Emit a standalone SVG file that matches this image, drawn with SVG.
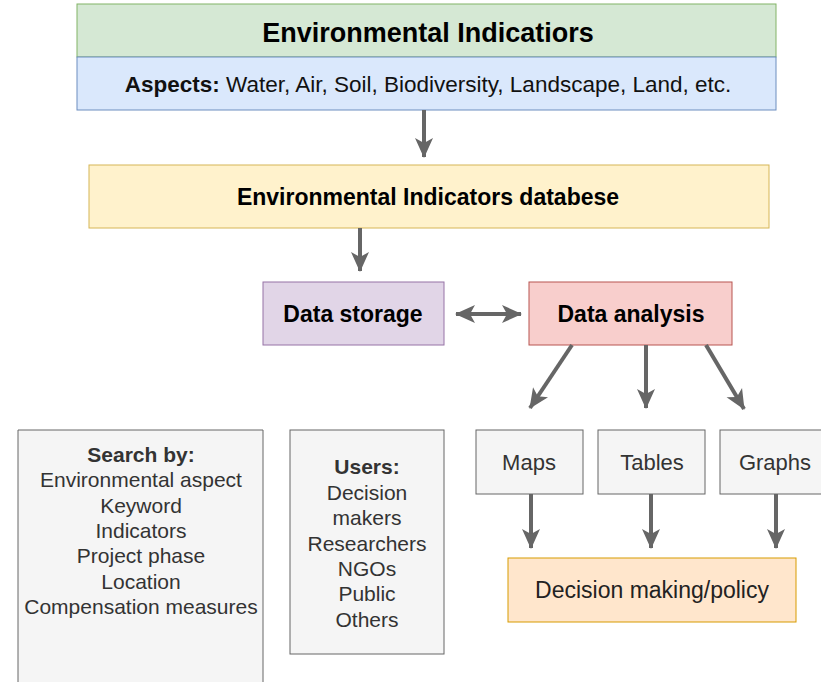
<svg xmlns="http://www.w3.org/2000/svg" width="821" height="682" viewBox="0 0 821 682">
<style>
text{font-family:"Liberation Sans",Arial,sans-serif;text-anchor:middle;fill:#000}
.b{font-weight:bold}
.g text{fill:#333;font-size:21px}
.c line{stroke:#666;stroke-width:4}
</style>
<defs>
<marker id="ah" viewBox="0 0 20 20" refX="19" refY="10" markerWidth="20" markerHeight="20" orient="auto-start-reverse" markerUnits="userSpaceOnUse">
<path d="M0,1 L20,10 L0,19 L5,10 Z" fill="#666"/>
</marker>
</defs>
<rect width="821" height="682" fill="#fff"/>
<g id="top">
<rect x="77" y="4" width="699" height="53" fill="#d5e8d4" stroke="#82b366"/>
<text x="428" y="42" class="b" font-size="27">Environmental Indicatiors</text>
<rect x="77" y="57" width="699" height="53" fill="#dae8fc" stroke="#6c8ebf"/>
<text x="428" y="92" font-size="22.5" style="fill:#111"><tspan class="b">Aspects:</tspan> Water, Air, Soil, Biodiversity, Landscape, Land, etc.</text>
</g>
<g id="db">
<rect x="89" y="165" width="680" height="63" fill="#fff2cc" stroke="#d6b656"/>
<text x="428" y="205" class="b" font-size="23">Environmental Indicators databese</text>
</g>
<g id="storage">
<rect x="263" y="282" width="181" height="63" fill="#e1d5e7" stroke="#9673a6"/>
<text x="353" y="322" class="b" font-size="23">Data storage</text>
</g>
<g id="analysis">
<rect x="529" y="282" width="203" height="63" fill="#f8cecc" stroke="#b85450"/>
<text x="631" y="322" class="b" font-size="23">Data analysis</text>
</g>
<g id="search" class="g">
<path d="M18,682 V430 H263 V682" fill="#f5f5f5" stroke="#666"/>
<text x="141" y="462" class="b">Search by:</text>
<text x="141" y="487">Environmental aspect</text>
<text x="141" y="513">Keyword</text>
<text x="141" y="538">Indicators</text>
<text x="141" y="563">Project phase</text>
<text x="141" y="589">Location</text>
<text x="141" y="614">Compensation measures</text>
</g>
<g id="users" class="g">
<rect x="290" y="430" width="154" height="224" fill="#f5f5f5" stroke="#666"/>
<text x="367" y="474" class="b">Users:</text>
<text x="367" y="500">Decision</text>
<text x="367" y="525">makers</text>
<text x="367" y="551">Researchers</text>
<text x="367" y="576">NGOs</text>
<text x="367" y="601">Public</text>
<text x="367" y="627">Others</text>
</g>
<g id="maps" class="g">
<rect x="476" y="430" width="107" height="64" fill="#f5f5f5" stroke="#666"/>
<text x="529" y="470" style="font-size:22px">Maps</text>
</g>
<g id="tables" class="g">
<rect x="598" y="430" width="107" height="64" fill="#f5f5f5" stroke="#666"/>
<text x="652" y="470" style="font-size:22px">Tables</text>
</g>
<g id="graphs" class="g">
<rect x="720" y="430" width="107" height="64" fill="#f5f5f5" stroke="#666"/>
<text x="775" y="470" style="font-size:22px">Graphs</text>
</g>
<g id="decision">
<rect x="508" y="558" width="288" height="64" fill="#ffe6cc" stroke="#d79b00"/>
<text x="652" y="598" font-size="23" style="fill:#222">Decision making/policy</text>
</g>
<g id="connectors" class="c">
<line x1="424" y1="110" x2="424" y2="157" marker-end="url(#ah)"/>
<line x1="360" y1="228" x2="360" y2="271" marker-end="url(#ah)"/>
<line x1="456" y1="314" x2="521" y2="314" marker-start="url(#ah)" marker-end="url(#ah)"/>
<line x1="572" y1="345" x2="530" y2="408" marker-end="url(#ah)"/>
<line x1="646" y1="345" x2="646" y2="408" marker-end="url(#ah)"/>
<line x1="706" y1="345" x2="744" y2="409" marker-end="url(#ah)"/>
<line x1="531" y1="494" x2="531" y2="548" marker-end="url(#ah)"/>
<line x1="651" y1="494" x2="651" y2="548" marker-end="url(#ah)"/>
<line x1="776" y1="494" x2="776" y2="548" marker-end="url(#ah)"/>
</g>
</svg>
